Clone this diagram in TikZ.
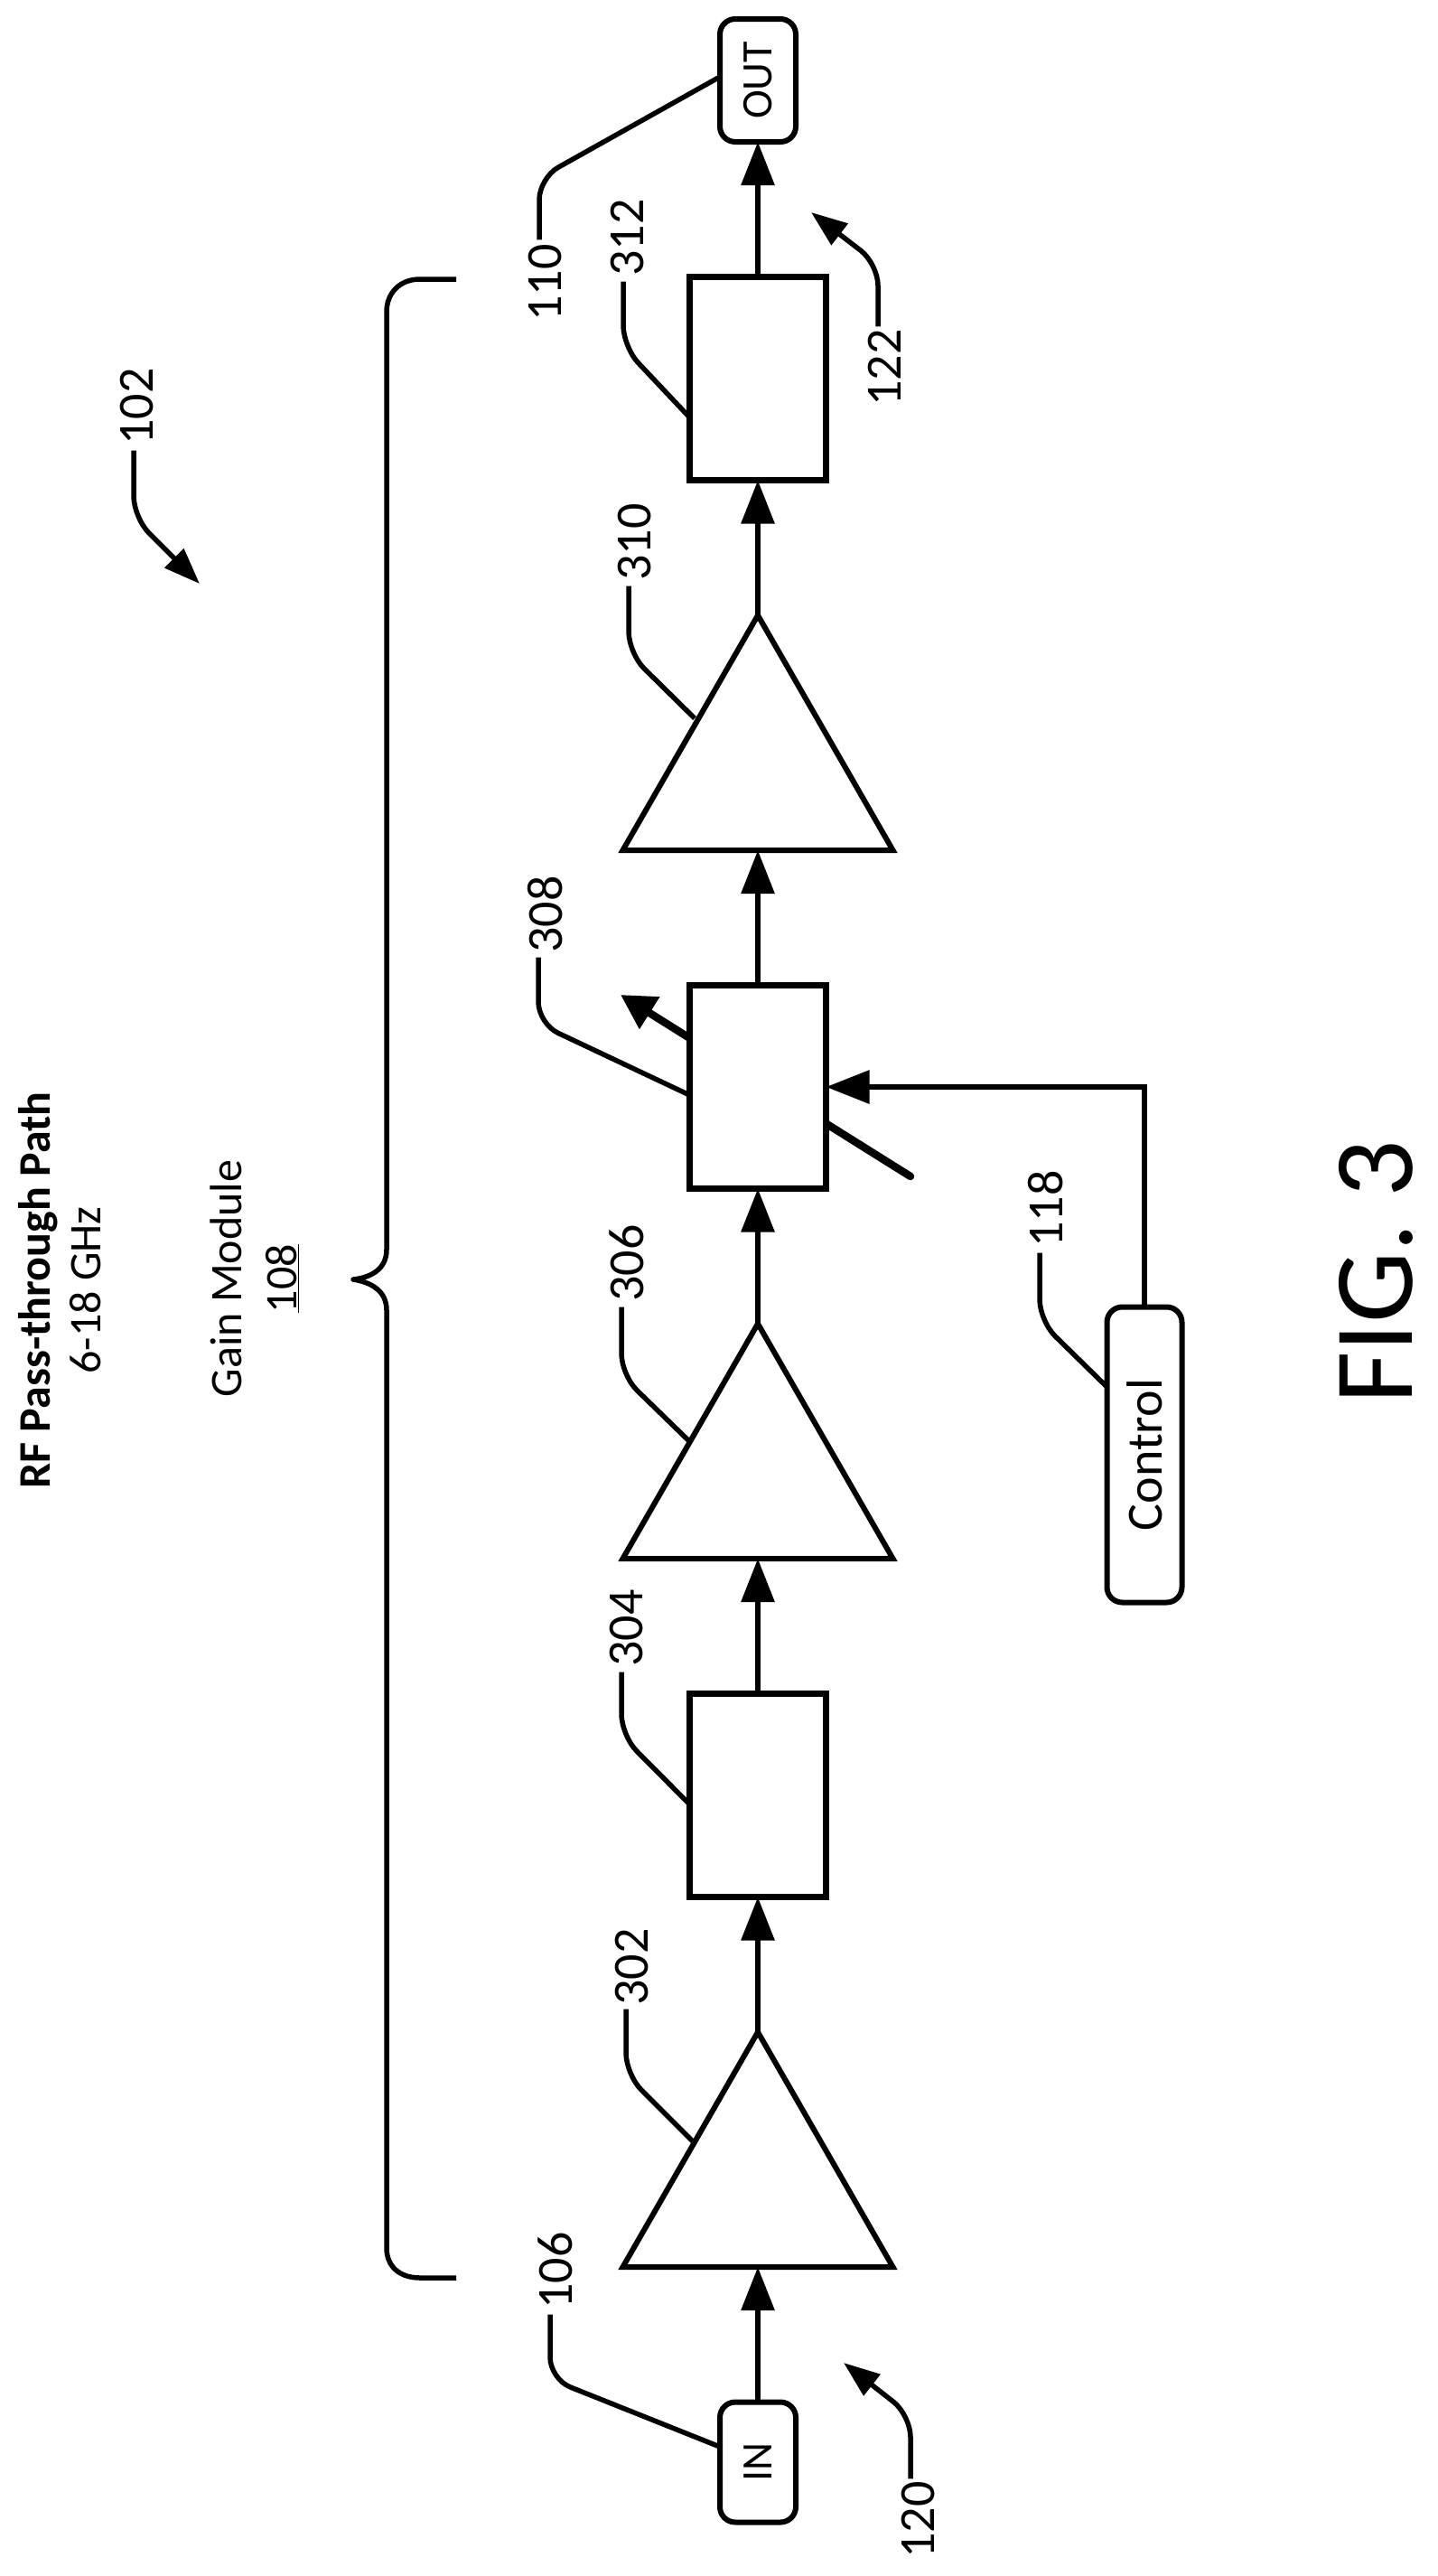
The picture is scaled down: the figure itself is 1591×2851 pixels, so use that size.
\documentclass[tikz,border=0pt]{standalone}
\usepackage{fontspec}
\setmainfont{Carlito}
\usetikzlibrary{positioning}
\usetikzlibrary{arrows.meta}
\usetikzlibrary{shapes.geometric}

\begin{document}
\begin{tikzpicture}[
                          x=1pt, y=-1pt,
                          node distance=149.5pt,
                          ampnode/.style={isosceles triangle, isosceles triangle stretches, shape border rotate=90, draw, fill=white, line width=6pt, inner sep=0pt, outer sep=0pt, minimum width=299pt, minimum height=260pt},
                          blocknode/.style={rectangle, draw, fill=white, line width=6.5pt, inner sep=0pt, outer sep=0pt, minimum width=151pt, minimum height=225pt},
                          portnode/.style={rectangle, rounded corners=17pt, draw, fill=white, line width=6pt, inner sep=0pt, outer sep=0pt, minimum width=84pt, font=\fontsize{48}{48}\selectfont},
                          reflabel/.style={rotate=90, inner sep=0pt, outer sep=0pt, font=\fontsize{56}{56}\selectfont},
                          textlabel/.style={rotate=90, inner sep=0pt, outer sep=0pt, align=center},
                          signal/.style={-{Triangle[length=48pt,width=36pt]}, line width=6pt},
                          leader/.style={line width=5.5pt, rounded corners=24pt},
                          leaderarrow/.style={leader, -{Triangle[length=40pt,width=29pt]}},
                          varline/.style={line width=8.5pt, line cap=round, -{Triangle[length=38pt,width=40pt]}},
                      ]
                      \useasboundingbox (0,0) rectangle (1591,2851);

                      %Slanted line of the variable block, under its box
                      \coordinate (var_tail) at (1008,1302);
                      \coordinate (var_tip)  at (687,1101);
                      \draw[varline] (var_tail) -- (var_tip);

                      %Nodes
                      \node[portnode, minimum height=133pt] (in) at (839,2725) {\rotatebox{90}{IN}};
                      \node[ampnode, above=of in.north, anchor=lower side]     (amp302) {};
                      \node[blocknode, above=of amp302.apex, anchor=south]     (box304) {};
                      \node[ampnode, above=of box304.north, anchor=lower side] (amp306) {};
                      \node[blocknode, above=of amp306.apex, anchor=south]     (box308) {};
                      \node[ampnode, above=of box308.north, anchor=lower side] (amp310) {};
                      \node[blocknode, above=of amp310.apex, anchor=south]     (box312) {};
                      \node[portnode, minimum height=136pt, above=of box312.north, anchor=south] (out) {\rotatebox{90}{OUT}};
                      \node[portnode, minimum width=83pt, minimum height=327pt, font=\fontsize{56}{56}\selectfont] (control) at (1267,1610) {\rotatebox{90}{Control}};

                      %Reference numerals
                      \node[reflabel] (l102) at (152,450)  {102};
                      \node[reflabel] (l110) at (604,313)  {110};
                      \node[reflabel] (l312) at (695,263)  {312};
                      \node[reflabel] (l122) at (979,407)  {122};
                      \node[reflabel] (l310) at (703,600)  {310};
                      \node[reflabel] (l308) at (604,1012) {308};
                      \node[reflabel] (l306) at (694,1398) {306};
                      \node[reflabel] (l118) at (1158,1338) {118};
                      \node[reflabel] (l304) at (694,1802) {304};
                      \node[reflabel] (l302) at (700,2177) {302};
                      \node[reflabel] (l106) at (615,2513) {106};
                      \node[reflabel] (l120) at (1017,2789) {120};

                      %Texts
                      \node[textlabel, font=\fontsize{50}{56}\selectfont] (path_title) at (66,1428) {\textbf{RF Pass-through Path}\\6-18 GHz};
                      \node[textlabel, font=\fontsize{50}{61}\selectfont] (gain_title) at (282,1415) {Gain Module\\\underline{108}};
                      \node[rotate=90, inner sep=0pt, font=\fontsize{125}{125}\selectfont] (fig_title) at (1523,1408) {FIG. 3};

                      %Lines
                      \draw[signal] (in.north) -- (amp302.lower side);
                      \draw[signal] (amp302.apex) -- (box304.south);
                      \draw[signal] (box304.north) -- (amp306.lower side);
                      \draw[signal] (amp306.apex) -- (box308.south);
                      \draw[signal] (box308.north) -- (amp310.lower side);
                      \draw[signal] (amp310.apex) -- (box312.south);
                      \draw[signal] (box312.north) -- (out.south);
                      \draw[signal] (control.north) |- (box308.east);

                      %Leaders
                      \draw[leader] ([shift={(-7pt,5pt)}]l110.east) -- (597,197) -- ([yshift=4pt]out.west);
                      \draw[leader] ([shift={(-5pt,-6pt)}]l312.west) -- (690,384) -- ([yshift=-43pt]box312.west);
                      \draw[leader] ([shift={(-7pt,-6pt)}]l310.west) -- (696,723) -- (769,795);
                      \draw[leader] ([shift={(-8pt,-5pt)}]l308.west) -- (596,1133) -- ([yshift=-9pt]box308.west);
                      \draw[leader] ([shift={(-6pt,-6pt)}]l306.west) -- (688,1522) -- (763,1595);
                      \draw[leader] ([shift={(-7pt,-6pt)}]l118.west) -- (1151,1462) -- ([yshift=75pt]control.west);
                      \draw[leader] ([shift={(-6pt,-6pt)}]l304.west) -- (688,1921) -- ([yshift=-10pt]box304.west);
                      \draw[leader] ([shift={(-7pt,-4pt)}]l302.west) -- (693,2296) -- (768,2371);
                      \draw[leader] ([shift={(-6pt,-6pt)}]l106.west) -- (609,2633) -- ([yshift=17pt]in.west);
                      \draw[leaderarrow] ([shift={(-4pt,-6pt)}]l102.west) -- (148,573) -- (221,646);
                      \draw[leaderarrow] ([shift={(-7pt,3pt)}]l122.east) -- (972,292) -- (898,235);
                      \draw[leaderarrow] ([shift={(-9pt,3pt)}]l120.east) -- (1008,2673) -- (934,2615);

                      %Brace of the gain module
                      \draw[line width=5.5pt, line join=round] (505,309) -- (465,309) .. controls (442,309) and (428,325) .. (428,345)
                          -- (428,1383) .. controls (428,1405) and (410,1414) .. (391,1416)
                          .. controls (410,1419) and (428,1428) .. (428,1450)
                          -- (428,2488) .. controls (428,2508) and (442,2521) .. (465,2521) -- (505,2521);
                  \end{tikzpicture}
\end{document}
